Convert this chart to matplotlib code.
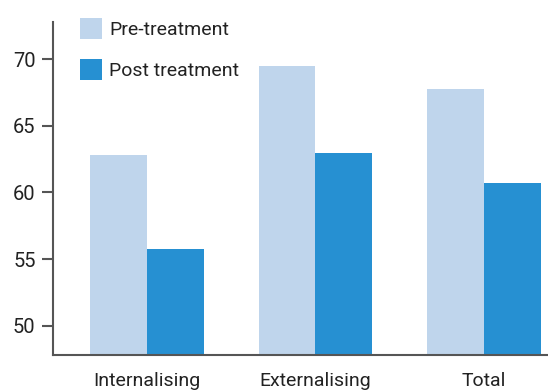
import numpy as np
import matplotlib.pyplot as plt

plt.rcParams['font.family'] = ['Roboto', 'DejaVu Sans']

categories = ['Internalising', 'Externalising', 'Total']
pre_treatment = [62.8, 69.5, 67.8]
post_treatment = [55.75, 63.0, 60.7]

pre_color = '#bfd5ec'
post_color = '#2690d2'
text_color = '#222222'

fig = plt.figure(figsize=(5.48, 3.9), dpi=100)
ax = fig.add_axes([53 / 548, 1 - 355 / 390, 1 - 53 / 548, (355 - 22) / 390])

x = np.arange(len(categories))
width = 0.338
ax.bar(x - width / 2, pre_treatment, width, color=pre_color, label='Pre-treatment')
ax.bar(x + width / 2, post_treatment, width, color=post_color, label='Post treatment')

ax.set_ylim(47.8, 72.8)
ax.set_xlim(-0.558, 2.38)
ax.set_yticks([50, 55, 60, 65, 70])
ax.set_xticks(x)
ax.set_xticklabels(categories)

for side in ['top', 'right']:
    ax.spines[side].set_visible(False)
for side in ['left', 'bottom']:
    ax.spines[side].set_color('#555555')
    ax.spines[side].set_linewidth(1.5)

ax.tick_params(axis='y', length=8, width=1.5, color='#555555', labelsize=14.5,
               labelcolor=text_color, pad=4.5)
ax.tick_params(axis='x', length=0, labelsize=14, labelcolor=text_color, pad=12)

# legend sits in the empty space above the first group
fig.legend(loc='upper left', bbox_to_anchor=(80 / 548, 1 - 18 / 390),
           frameon=False, fontsize=14, labelcolor=text_color,
           handlelength=1.15, handleheight=1.3, handletextpad=0.35,
           labelspacing=1.0, borderpad=0, borderaxespad=0)

fig.savefig('out.png', dpi=100)
